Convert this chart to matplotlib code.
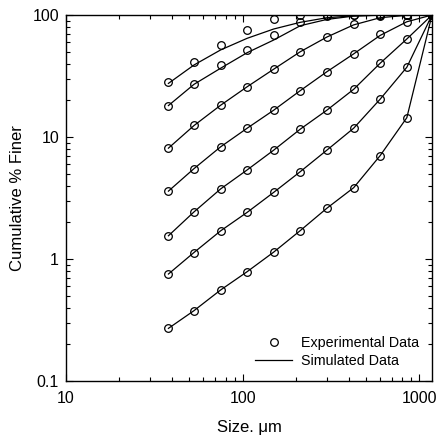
import numpy as np
import matplotlib.pyplot as plt
from matplotlib.ticker import FixedLocator, LogLocator, NullFormatter

plt.rcParams['font.family'] = ['Liberation Sans', 'DejaVu Sans']

# sieve sizes, um
size = [38, 53, 75, 106, 150, 212, 300, 425, 600, 850, 1180]

# experimental cumulative % finer, one list per run
exp1 = [28.1, 40.9, 56.8, 75.3, 92.2, 99.5, 100, 100, 100, 100, 100]
exp2 = [18.1, 27.0, 38.9, 51.7, 68.5, 88.1, 99, 100, 100, 100, 100]
exp3 = [8.07, 12.5, 18.4, 25.8, 35.9, 50.0, 65.6, 84.4, 99, 100, 100]
exp4 = [3.61, 5.50, 8.32, 11.8, 16.6, 24.0, 34.3, 47.9, 69.9, 88.1, 100]
exp5 = [1.55, 2.43, 3.75, 5.37, 7.81, 11.6, 16.6, 24.6, 40.2, 63.6, 100]
exp6 = [0.753, 1.13, 1.70, 2.41, 3.52, 5.20, 7.81, 11.8, 20.4, 37.3, 100]
exp7 = [0.270, 0.377, 0.557, 0.787, 1.14, 1.71, 2.61, 3.84, 7.03, 14.4, 100]

# simulated
sim1 = [27.5, 38.9, 51.7, 64.4, 76.8, 87.1, 95.0, 98.5, 99.7, 100, 100]
sim2 = [18.1, 27.0, 36.6, 49.1, 62.4, 81.7, 92.0, 98.0, 99.7, 100, 100]
sim3 = [8.1, 12.4, 18.2, 25.8, 36.0, 50.0, 66.0, 83.0, 95.0, 99.5, 100]
sim4 = [3.6, 5.5, 8.3, 11.8, 16.6, 24.0, 34.3, 48.0, 68.0, 88.0, 100]
sim5 = [1.55, 2.43, 3.75, 5.37, 7.81, 11.6, 16.6, 24.6, 40.2, 63.6, 100]
sim6 = [0.753, 1.13, 1.70, 2.41, 3.52, 5.20, 7.81, 11.8, 20.4, 37.3, 100]
sim7 = [0.270, 0.377, 0.557, 0.787, 1.14, 1.71, 2.61, 3.84, 7.03, 14.4, 100]

exps = [exp1, exp2, exp3, exp4, exp5, exp6, exp7]
sims = [sim1, sim2, sim3, sim4, sim5, sim6, sim7]

fig = plt.figure(figsize=(4.36, 4.37), dpi=100)
ax = fig.add_axes([66/436, 1-381/437, 366/436, 366/437])

for i in range(len(exps)):
    ax.plot(size, sims[i], color="black", lw=0.9,
            label="Simulated Data" if i == 0 else None, zorder=2)
    ax.plot(size, exps[i], "o", mfc="none", mec="black", ms=5.5, mew=0.9,
            label="Experimental Data" if i == 0 else None, zorder=3)

ax.set_xscale("log")
ax.set_yscale("log")
ax.set_xlim(10, 1180)
ax.set_ylim(0.1, 100)

ax.xaxis.set_major_locator(FixedLocator([10, 100, 1000]))
ax.set_xticklabels(["10", "100", "1000"])
ax.yaxis.set_major_locator(FixedLocator([0.1, 1, 10, 100]))
ax.set_yticklabels(["0.1", "1", "10", "100"])
ax.xaxis.set_minor_locator(LogLocator(base=10, subs=np.arange(2, 10)))
ax.yaxis.set_minor_locator(LogLocator(base=10, subs=np.arange(2, 10)))
ax.xaxis.set_minor_formatter(NullFormatter())
ax.yaxis.set_minor_formatter(NullFormatter())

ax.tick_params(which="both", direction="in", top=True, right=True,
               labelsize=11.5, width=0.8)
ax.tick_params(which="major", length=5, pad=5)
ax.tick_params(axis="x", which="major", pad=7)
ax.tick_params(which="minor", length=3)
for s in ax.spines.values():
    s.set_linewidth(1.0)

ax.set_xlabel("Size. \u03bcm", fontsize=12, labelpad=10)
ax.set_ylabel("Cumulative % Finer", fontsize=12)
ax.yaxis.set_label_coords(-0.113, 0.5)

h, l = ax.get_legend_handles_labels()
ax.legend([h[1], h[0]], [l[1], l[0]], loc="lower right", frameon=False,
          fontsize=10.3, bbox_to_anchor=(1.0, 0.0), handlelength=2.6,
          labelspacing=0.3, handletextpad=0.6)

fig.savefig("out.png", dpi=100)
